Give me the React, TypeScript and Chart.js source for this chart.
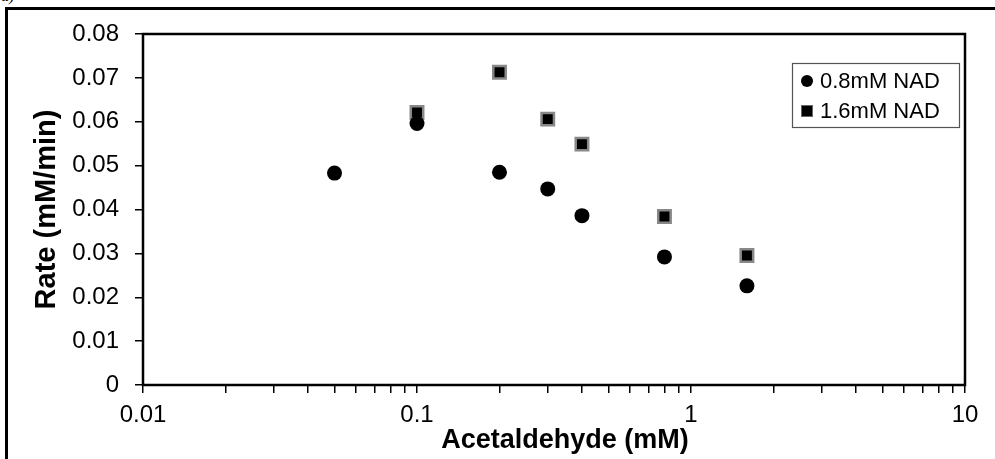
import React, { useEffect, useRef } from 'react';
import { Chart, registerables } from 'chart.js';

Chart.register(...registerables);

// ---- data ----
const seriesNames = ['0.8mM NAD', '1.6mM NAD'];
const nad08X = [0.05, 0.1, 0.2, 0.3, 0.4, 0.8, 1.6];
const nad08Y = [0.0483, 0.0596, 0.0485, 0.0447, 0.0386, 0.0292, 0.0226];
const nad16X = [0.1, 0.2, 0.3, 0.4, 0.8, 1.6];
const nad16Y = [0.0621, 0.0713, 0.0606, 0.0549, 0.0384, 0.0295];

const xTickDecades = [0.01, 0.1, 1];
const xTickMultipliers = [1, 2, 3, 4, 5, 6, 7, 8, 9];
const xTickLabels = ['0.01', '0.1', '1', '10'];
const yTickLabels = ['0', '0.01', '0.02', '0.03', '0.04', '0.05', '0.06', '0.07', '0.08'];
const xTitle = 'Acetaldehyde (mM)';
const yTitle = 'Rate (mM/min)';

const FONT = '"Liberation Sans", Arial, sans-serif';

const xTickValues: number[] = [];
xTickDecades.forEach((d) => xTickMultipliers.forEach((m) => xTickValues.push(Number((d * m).toPrecision(6)))));
xTickValues.push(10);

const frameAndLegend = {
  id: 'frameAndLegend',
  beforeDatasetsDraw(chart: any) {
    const { ctx, chartArea } = chart;
    ctx.save();
    ctx.strokeStyle = '#000';
    ctx.lineWidth = 2.5;
    ctx.strokeRect(chartArea.left, chartArea.top, chartArea.right - chartArea.left, chartArea.bottom - chartArea.top);
    ctx.restore();
  },
  afterDraw(chart: any) {
    const { ctx, chartArea } = chart;
    // x axis title, slightly right of the plot centre as in the original
    ctx.save();
    ctx.fillStyle = '#000';
    ctx.font = `bold 27px ${FONT}`;
    ctx.textAlign = 'center';
    ctx.textBaseline = 'middle';
    ctx.fillText(xTitle, (chartArea.left + chartArea.right) / 2 + 11, chartArea.bottom + 56);
    ctx.restore();

    // legend
    const w = 167;
    const h = 64;
    const x0 = chartArea.right - 6 - w;
    const y0 = chartArea.top + 29;
    ctx.save();
    ctx.fillStyle = '#fff';
    ctx.fillRect(x0, y0, w, h);
    ctx.strokeStyle = '#555';
    ctx.lineWidth = 1.2;
    ctx.strokeRect(x0 + 0.5, y0 + 0.5, w, h);
    ctx.font = `22px ${FONT}`;
    ctx.textBaseline = 'middle';
    ctx.textAlign = 'left';
    const rows = [y0 + 18, y0 + 48];
    ctx.fillStyle = '#000';
    ctx.beginPath();
    ctx.arc(x0 + 15, rows[0], 6, 0, Math.PI * 2);
    ctx.fill();
    ctx.fillText(seriesNames[0], x0 + 28, rows[0] + 1);
    ctx.fillStyle = '#666';
    ctx.fillRect(x0 + 9, rows[1] - 6, 12, 12);
    ctx.fillStyle = '#000';
    ctx.fillRect(x0 + 10, rows[1] - 5, 10, 10);
    ctx.fillText(seriesNames[1], x0 + 28, rows[1] + 1);
    ctx.restore();
  },
};

export default function App() {
  const ref = useRef<HTMLCanvasElement | null>(null);
  useEffect(() => {
    if (!ref.current) return;
    const chart = new Chart(ref.current, {
      type: 'scatter',
      data: {
        datasets: [
          {
            label: seriesNames[0],
            data: nad08X.map((x, i) => ({ x, y: nad08Y[i] })),
            pointStyle: 'circle',
            pointRadius: 7.5,
            pointHoverRadius: 7.5,
            backgroundColor: '#000',
            borderColor: '#000',
            borderWidth: 0,
          },
          {
            label: seriesNames[1],
            data: nad16X.map((x, i) => ({ x, y: nad16Y[i] })),
            pointStyle: 'rect',
            pointRadius: 8.8,
            pointHoverRadius: 8.8,
            backgroundColor: '#000',
            borderColor: '#888',
            borderWidth: 2.5,
          },
        ],
      },
      options: {
        animation: false,
        responsive: false,
        events: [],
        layout: { padding: { left: 0, top: 34, right: 30, bottom: 0 } },
        plugins: { legend: { display: false }, tooltip: { enabled: false } },
        scales: {
          x: {
            type: 'logarithmic',
            min: 0.01,
            max: 10,
            afterBuildTicks: (scale: any) => {
              scale.ticks = xTickValues.map((v) => ({ value: v }));
            },
            afterFit: (scale: any) => {
              scale.height = 74;
            },
            ticks: {
              autoSkip: false,
              maxRotation: 0,
              padding: 8,
              color: '#000',
              font: { family: FONT, size: 24 },
              callback: (value: any) => {
                const s = String(Number(Number(value).toPrecision(6)));
                return xTickLabels.includes(s) ? s : '';
              },
            },
            grid: { display: true, drawOnChartArea: false, drawTicks: true, tickLength: 8, color: '#000', lineWidth: 1.5 },
            border: { display: false },
            title: { display: false, text: xTitle },
          },
          y: {
            type: 'linear',
            min: 0,
            max: 0.08,
            afterFit: (scale: any) => {
              scale.width = 143;
            },
            ticks: {
              stepSize: 0.01,
              padding: 16,
              color: '#000',
              font: { family: FONT, size: 24 },
              callback: (_v: any, i: number) => yTickLabels[i],
            },
            grid: { display: true, drawOnChartArea: false, drawTicks: true, tickLength: 8, color: '#000', lineWidth: 1.5 },
            border: { display: false },
            title: {
              display: true,
              text: yTitle,
              color: '#000',
              font: { family: FONT, size: 29, weight: 'bold' },
              padding: { top: 30, bottom: 0 },
            },
          },
        },
      },
      plugins: [frameAndLegend],
    } as any);
    return () => chart.destroy();
  }, []);

  return (
    <div style={{ position: 'absolute', left: 0, top: 0, width: 995, height: 459, background: '#fff', overflow: 'hidden' }}>
      <span style={{ position: 'absolute', left: 1, top: -13, fontFamily: '"Liberation Serif", serif', fontStyle: 'italic', fontSize: 16 }}>a)</span>
      <div style={{ position: 'absolute', left: 5, top: 7, width: 1000, height: 470, borderTop: '3px solid #000', borderLeft: '3px solid #000' }} />
      <canvas ref={ref} width={995} height={459} style={{ position: 'absolute', left: 0, top: 0, width: 995, height: 459 }} />
    </div>
  );
}
